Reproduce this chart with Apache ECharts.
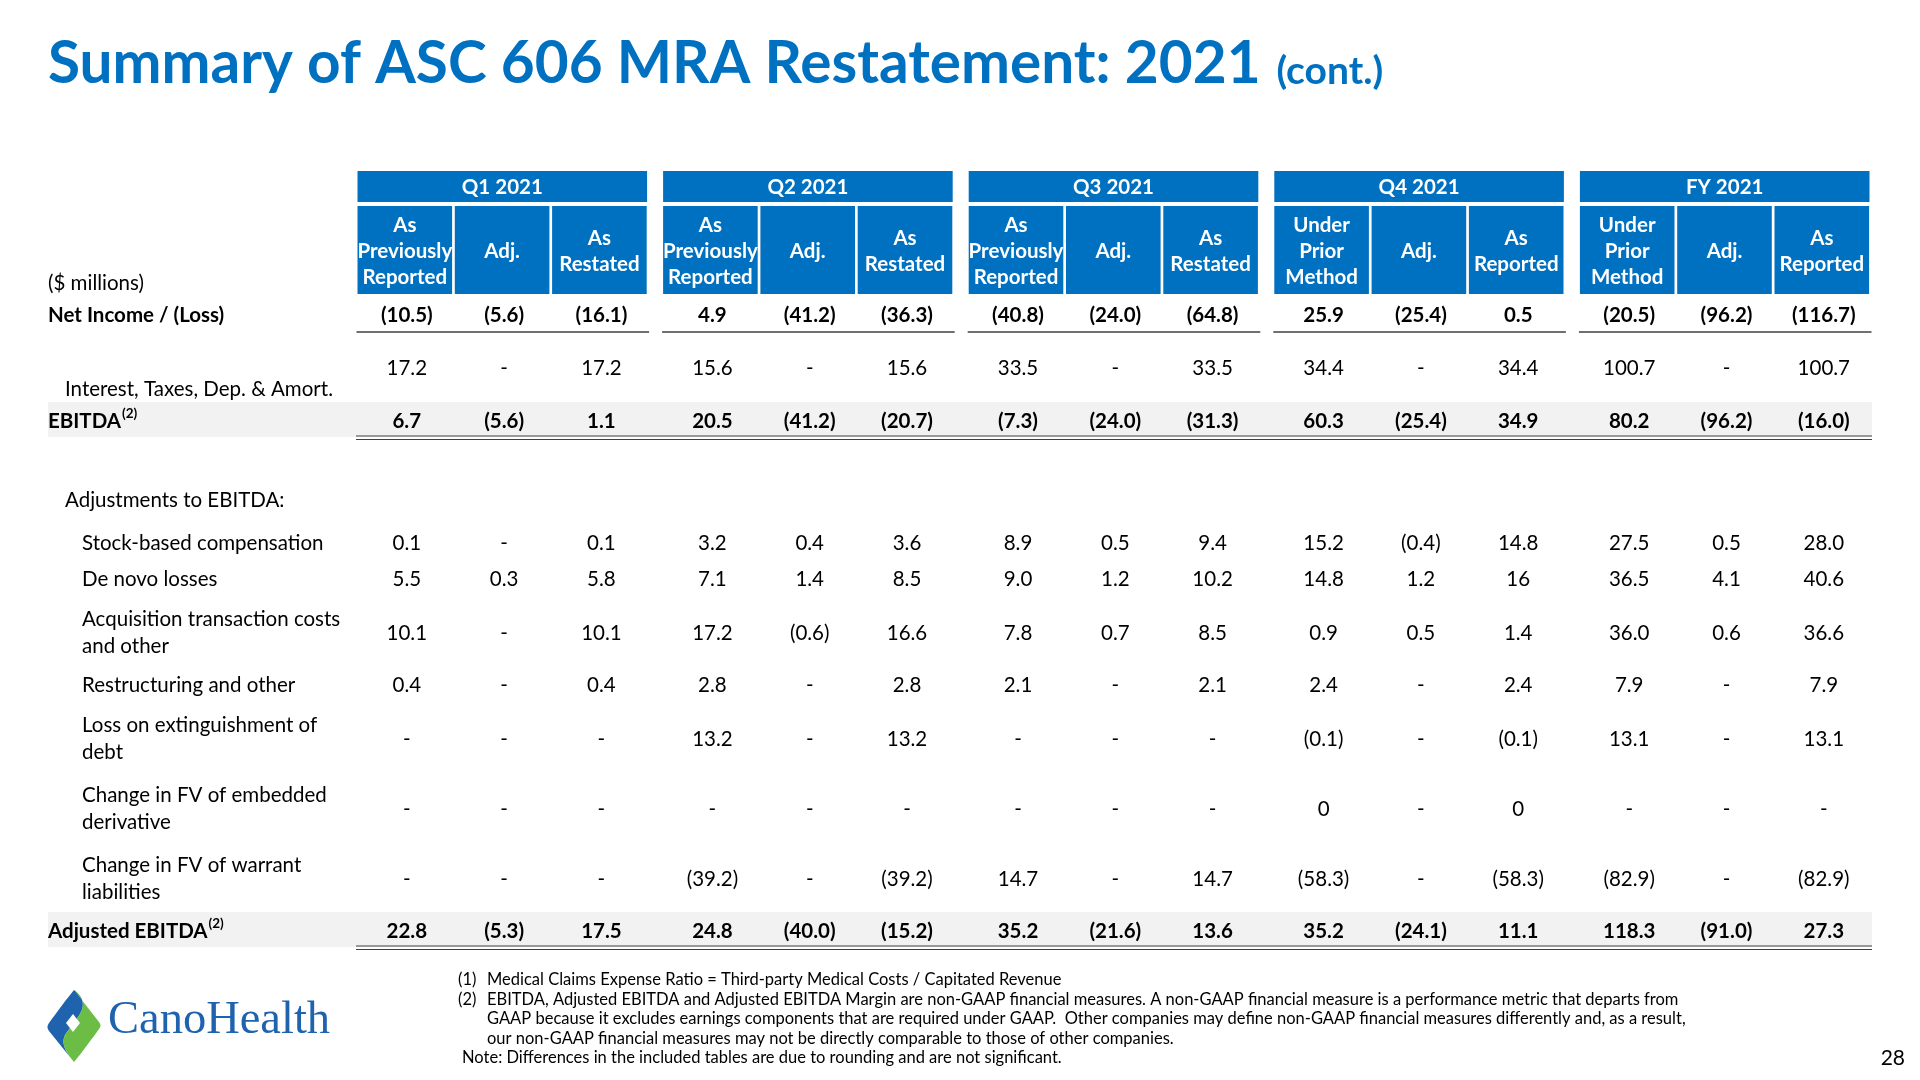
<!DOCTYPE html>
<html>
<head>
<meta charset="utf-8">
<script src="https://cdn.jsdelivr.net/npm/echarts@6/dist/echarts.min.js"></script>
<style>
html,body{margin:0;padding:0;background:#fff;}
#main{width:1920px;height:1080px;}
</style>
</head>
<body>
<div id="main"></div>
<script>
// ---------------- DATA ----------------
const periods = ['Q1 2021', 'Q2 2021', 'Q3 2021', 'Q4 2021', 'FY 2021'];
const colHeaders = [
  ['As\nPreviously\nReported', 'Adj.', 'As\nRestated'],
  ['As\nPreviously\nReported', 'Adj.', 'As\nRestated'],
  ['As\nPreviously\nReported', 'Adj.', 'As\nRestated'],
  ['Under\nPrior\nMethod', 'Adj.', 'As\nReported'],
  ['Under\nPrior\nMethod', 'Adj.', 'As\nReported']
];
const rowLabels = [
  'Net Income / (Loss)',
  'Interest, Taxes, Dep. & Amort.',
  'EBITDA',
  'Stock-based compensation',
  'De novo losses',
  'Acquisition transaction costs\nand other',
  'Restructuring and other',
  'Loss on extinguishment of\ndebt',
  'Change in FV of embedded\nderivative',
  'Change in FV of warrant\nliabilities',
  'Adjusted EBITDA'
];
const netIncome      = ['(10.5)','(5.6)','(16.1)','4.9','(41.2)','(36.3)','(40.8)','(24.0)','(64.8)','25.9','(25.4)','0.5','(20.5)','(96.2)','(116.7)'];
const interestTaxes  = ['17.2','-','17.2','15.6','-','15.6','33.5','-','33.5','34.4','-','34.4','100.7','-','100.7'];
const ebitda         = ['6.7','(5.6)','1.1','20.5','(41.2)','(20.7)','(7.3)','(24.0)','(31.3)','60.3','(25.4)','34.9','80.2','(96.2)','(16.0)'];
const stockComp      = ['0.1','-','0.1','3.2','0.4','3.6','8.9','0.5','9.4','15.2','(0.4)','14.8','27.5','0.5','28.0'];
const deNovo         = ['5.5','0.3','5.8','7.1','1.4','8.5','9.0','1.2','10.2','14.8','1.2','16','36.5','4.1','40.6'];
const acquisition    = ['10.1','-','10.1','17.2','(0.6)','16.6','7.8','0.7','8.5','0.9','0.5','1.4','36.0','0.6','36.6'];
const restructuring  = ['0.4','-','0.4','2.8','-','2.8','2.1','-','2.1','2.4','-','2.4','7.9','-','7.9'];
const lossExtinguish = ['-','-','-','13.2','-','13.2','-','-','-','(0.1)','-','(0.1)','13.1','-','13.1'];
const fvEmbedded     = ['-','-','-','-','-','-','-','-','-','0','-','0','-','-','-'];
const fvWarrant      = ['-','-','-','(39.2)','-','(39.2)','14.7','-','14.7','(58.3)','-','(58.3)','(82.9)','-','(82.9)'];
const adjEbitda      = ['22.8','(5.3)','17.5','24.8','(40.0)','(15.2)','35.2','(21.6)','13.6','35.2','(24.1)','11.1','118.3','(91.0)','27.3'];
const rowValues = [netIncome, interestTaxes, ebitda, stockComp, deNovo, acquisition, restructuring, lossExtinguish, fvEmbedded, fvWarrant, adjEbitda];
const footnotes = [
  ['(1)', 'Medical Claims Expense Ratio = Third-party Medical Costs / Capitated Revenue'],
  ['(2)', 'EBITDA, Adjusted EBITDA and Adjusted EBITDA Margin are non-GAAP financial measures. A non-GAAP financial measure is a performance metric that departs from'],
  ['', 'GAAP because it excludes earnings components that are required under GAAP.  Other companies may define non-GAAP financial measures differently and, as a result,'],
  ['', 'our non-GAAP financial measures may not be directly comparable to those of other companies.']
];
const noteText = 'Note: Differences in the included tables are due to rounding and are not significant.';
const titleText = 'Summary of ASC 606 MRA Restatement: 2021';
const titleSuffix = '(cont.)';
const pageNumber = '28';
const logoText = 'CanoHealth';

// ---------------- LAYOUT / STYLE ----------------
const FONT = 'Lato, "Open Sans", sans-serif';
const BLUE = '#0070C0';
const groupX0 = 357.5, groupStep = 305.6, colStep = 97.3, colW = 94.6, groupW = 289.6;
const rowLayout = [
  {y: 315, lx: 48, bold: true, ly: 315, line: 'single'},
  {y: 368, lx: 65, bold: false, ly: 389},
  {y: 421, lx: 48, bold: true, ly: 421, band: true, line: 'double', sup: '(2)'},
  {y: 543, lx: 82},
  {y: 579, lx: 82},
  {y: 633, lx: 82},
  {y: 685, lx: 82},
  {y: 739, lx: 82},
  {y: 809, lx: 82},
  {y: 879, lx: 82},
  {y: 931, lx: 48, bold: true, band: true, line: 'double', sup: '(2)'}
];

const measureCtx = document.createElement('canvas').getContext('2d');
function textWidth(t, font) { measureCtx.font = font; return measureCtx.measureText(t).width; }

function bez(start, segs) {
  const pts = [start];
  let p0 = start;
  segs.forEach(s => {
    if (s.length === 1) { pts.push(s[0]); p0 = s[0]; return; }
    const [c1, c2, p3] = s;
    for (let i = 1; i <= 12; i++) {
      const t = i / 12, u = 1 - t;
      pts.push([
        u*u*u*p0[0] + 3*u*u*t*c1[0] + 3*u*t*t*c2[0] + t*t*t*p3[0],
        u*u*u*p0[1] + 3*u*u*t*c1[1] + 3*u*t*t*c2[1] + t*t*t*p3[1]
      ]);
    }
    p0 = p3;
  });
  return pts;
}

const g = [];
// title
const titleFont = 'bold 58.5px ' + FONT;
g.push({type: 'text', style: {text: titleText, x: 48, y: 64, font: titleFont, fill: BLUE, textVerticalAlign: 'middle'}});
const tw = textWidth(titleText, titleFont);
g.push({type: 'text', style: {text: titleSuffix, x: 48 + tw + 16, y: 71, font: 'bold 39px ' + FONT, fill: BLUE, textVerticalAlign: 'middle'}});

// bands
rowLayout.forEach(r => {
  if (r.band) g.push({type: 'rect', shape: {x: 48, y: r.y - 19, width: 1824, height: 35}, style: {fill: '#F2F2F2'}, z: 0});
});

// headers
periods.forEach((p, gi) => {
  const gx = groupX0 + gi * groupStep;
  g.push({type: 'rect', shape: {x: gx, y: 171, width: groupW, height: 31}, style: {fill: BLUE}, z: 1});
  g.push({type: 'text', style: {text: p, x: gx + groupW / 2, y: 187, font: 'bold 20.5px ' + FONT, fill: '#fff', textAlign: 'center', textVerticalAlign: 'middle'}, z: 2});
  colHeaders[gi].forEach((h, ci) => {
    const cx = gx + ci * colStep;
    g.push({type: 'rect', shape: {x: cx, y: 206, width: colW, height: 88}, style: {fill: BLUE}, z: 1});
    g.push({type: 'text', style: {text: h, x: cx + colW / 2, y: 251, font: 'bold 20.5px ' + FONT, lineHeight: 26, fill: '#fff', textAlign: 'center', textVerticalAlign: 'middle'}, z: 2});
  });
  g.push({type: 'line', shape: {x1: gx - 1, y1: 332, x2: gx + groupW + 2, y2: 332}, style: {stroke: '#404040', lineWidth: 1.5}, z: 2});
});

g.push({type: 'text', style: {text: '($ millions)', x: 48, y: 283, font: '20.5px ' + FONT, fill: '#000', textVerticalAlign: 'middle'}});
g.push({type: 'text', style: {text: 'Adjustments to EBITDA:', x: 65, y: 500, font: '20.5px ' + FONT, fill: '#000', textVerticalAlign: 'middle'}});

// rows
rowLabels.forEach((lab, ri) => {
  const r = rowLayout[ri];
  const font = (r.bold ? 'bold ' : '') + '20.5px ' + FONT;
  g.push({type: 'text', style: {text: lab, x: r.lx, y: r.ly != null ? r.ly : r.y, font: font, lineHeight: 27, fill: '#000', textVerticalAlign: 'middle'}, z: 2});
  if (r.sup) {
    const w = textWidth(lab, font);
    g.push({type: 'text', style: {text: r.sup, x: r.lx + w + 1, y: r.y - 7, font: 'bold 13.5px ' + FONT, fill: '#000', textVerticalAlign: 'middle'}, z: 2});
  }
  rowValues[ri].forEach((v, k) => {
    const gi = Math.floor(k / 3), ci = k % 3;
    const cx = groupX0 + gi * groupStep + ci * colStep + colW / 2 + 2;
    g.push({type: 'text', style: {text: v, x: cx, y: r.y, font: font, fill: '#000', textAlign: 'center', textVerticalAlign: 'middle'}, z: 2});
  });
  if (r.line === 'double') {
    [r.y + 15, r.y + 18.5].forEach(yy => g.push({type: 'line', shape: {x1: 356, y1: yy, x2: 1872, y2: yy}, style: {stroke: '#404040', lineWidth: 1.2}, z: 2}));
  }
});

// footnotes
const FN = '16.5px ' + FONT;
footnotes.forEach((f, i) => {
  const y = 980 + i * 19.5;
  if (f[0]) g.push({type: 'text', style: {text: f[0], x: 458, y: y, font: FN, fill: '#000', textVerticalAlign: 'middle'}});
  g.push({type: 'text', style: {text: f[1], x: 487, y: y, font: FN, fill: '#000', textVerticalAlign: 'middle'}});
});
g.push({type: 'text', style: {text: noteText, x: 462, y: 1058, font: FN, fill: '#000', textVerticalAlign: 'middle'}});
g.push({type: 'text', style: {text: pageNumber, x: 1905, y: 1058, font: '21px ' + FONT, fill: '#000', textAlign: 'right', textVerticalAlign: 'middle'}});

// logo
const bluePts = bez([74, 990], [
  [[68, 997], [54, 1016], [49, 1023]],
  [[47, 1026], [47, 1028], [49, 1031]],
  [[74, 1062]],
  [[64, 1050], [60, 1041], [67, 1032]],
  [[74, 1023]],
  [[80, 1014]],
  [[86, 1004], [82, 996], [74, 990]]
]);
const greenPts = bez([74, 990], [
  [[82, 996], [86, 1004], [80, 1014]],
  [[74, 1023]],
  [[67, 1032]],
  [[60, 1041], [64, 1050], [74, 1062]],
  [[80, 1055], [94, 1036], [99, 1029]],
  [[101, 1026], [101, 1025], [99, 1022]],
  [[74, 990]]
]);
g.push({type: 'polygon', shape: {points: bluePts}, style: {fill: '#1F62AE'}});
g.push({type: 'polygon', shape: {points: greenPts}, style: {fill: '#6CBD45'}});
g.push({type: 'polygon', shape: {points: [[73, 1014], [80, 1023], [73, 1032], [66, 1023]]}, style: {fill: '#fff'}});
g.push({type: 'text', style: {text: logoText, x: 108, y: 1021, font: '46.5px "Liberation Serif", "DejaVu Serif", serif', fill: '#1F62AE', textVerticalAlign: 'middle'}});

const chart = echarts.init(document.getElementById('main'), null, {renderer: 'canvas'});
chart.setOption({backgroundColor: '#fff', animation: false, graphic: g});
</script>
</body>
</html>
